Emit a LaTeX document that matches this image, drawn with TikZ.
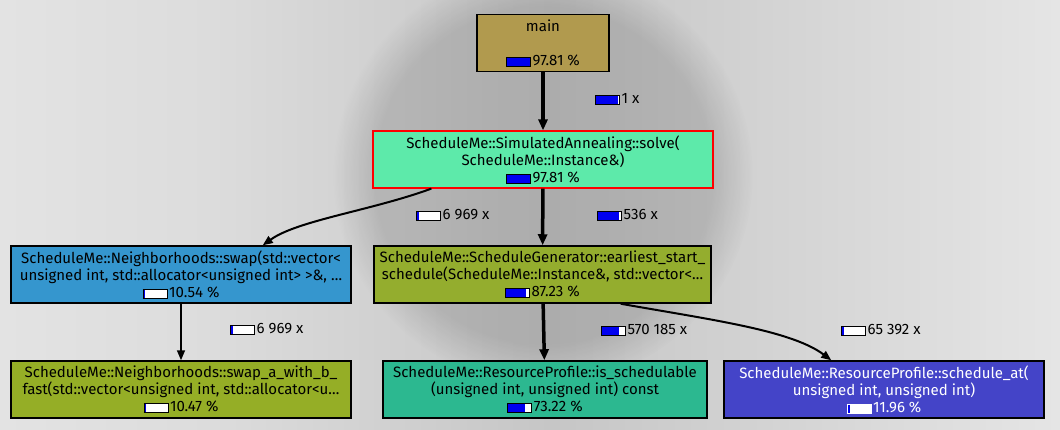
\documentclass[tikz,border=0pt]{standalone}
\usepackage{fontspec}
\setmainfont{Fira Sans}
\usetikzlibrary{calc,arrows.meta,fadings}
\definecolor{barblue}{HTML}{0000F0}
\definecolor{cmain}{HTML}{B19A4E}
\definecolor{csolve}{HTML}{5DEAAA}
\definecolor{cswap}{HTML}{3596CE}
\definecolor{cearl}{HTML}{94AD2E}
\definecolor{cswapab}{HTML}{95AE26}
\definecolor{csched}{HTML}{2CB890}
\definecolor{cschat}{HTML}{4444C8}
\definecolor{bgA}{HTML}{D4D4D4}
\definecolor{bgB}{HTML}{EAEAEA}
\definecolor{bgC}{HTML}{DCDCDC}
\definecolor{bgD}{HTML}{C6C6C6}
\definecolor{bgE}{HTML}{DCDCDC}
\definecolor{bgF}{HTML}{F2F2F2}
\definecolor{bgG}{HTML}{F8F8F8}
\pgfdeclarehorizontalshading{bgsh}{100bp}{color(0bp)=(bgA); color(15bp)=(bgB); color(35bp)=(bgC); color(51bp)=(bgD); color(68bp)=(bgE); color(85bp)=(bgF); color(100bp)=(bgG)}
\newcommand\pbar[1]{{\setlength\fboxsep{0pt}\setlength\fboxrule{1pt}\raisebox{-0.5pt}{\fbox{\textcolor{barblue}{\rule{#1pt}{8pt}}\textcolor{white}{\rule{\dimexpr23pt-#1pt\relax}{8pt}}}}\hspace{1.5pt}}}
\tikzset{
  fn/.style={draw=black, line width=1.5pt, minimum height=57pt, align=center,
    font=\fontsize{15}{17}\selectfont, inner sep=0pt, anchor=center},
  elabel/.style={anchor=west, inner sep=0pt, font=\fontsize{15}{17}\selectfont},
  thickedge/.style={line width=3.5pt, -{Triangle[length=11pt,width=9pt]}},
  thinedge/.style={line width=2pt, -{Triangle[length=10pt,width=8pt]}},
}
\begin{document}
\begin{tikzpicture}[x=1pt,y=-1pt]
\useasboundingbox (0,0) rectangle (1060,429);
\shade[shading=bgsh] (0,0) rectangle (1060,429);
\fill[black, opacity=0.13, path fading=circle with fuzzy edge 20 percent] (543,175) ellipse (210 and 210);

\node[fn, fill=cmain, minimum width=132pt] (main) at (543,43) {main\\ \mbox{}\\ \pbar{22.5}97.81 \%};
\node[fn, fill=csolve, draw=red, line width=1.2pt, minimum width=340pt] (solve) at (543,159.5) {ScheduleMe::SimulatedAnnealing::solve(\\ ScheduleMe::Instance\&)\\ \pbar{22.5}97.81 \%};
\node[fn, fill=cswap, minimum width=340pt] (swap) at (181,274.5) {ScheduleMe::Neighborhoods::swap(std::vector<\\ unsigned int, std::allocator<unsigned int> >\&, \dots\\ \pbar{1.5}10.54 \%};
\node[fn, fill=cearl, minimum width=337pt] (earl) at (542.5,274.5) {ScheduleMe::ScheduleGenerator::earliest\_start\_\\ schedule(ScheduleMe::Instance\&, std::vector<\dots\\ \pbar{20}87.23 \%};
\node[fn, fill=cswapab, minimum width=340pt] (swapab) at (181,389.5) {ScheduleMe::Neighborhoods::swap\_a\_with\_b\_\\ fast(std::vector<unsigned int, std::allocator<u\dots\\ \pbar{1.5}10.47 \%};
\node[fn, fill=csched, minimum width=324pt] (issched) at (545,389.5) {ScheduleMe::ResourceProfile::is\_schedulable\\ (unsigned int, unsigned int) const\\ \pbar{17}73.22 \%};
\node[fn, fill=cschat, text=white, minimum width=320pt] (schedat) at (884,389.5) {ScheduleMe::ResourceProfile::schedule\_at(\\ unsigned int, unsigned int)\\ \pbar{2}11.96 \%};

\draw[thickedge] (main) -- (solve);
\draw[thickedge] (solve) -- (earl);
\draw[thickedge] (earl) -- (issched);
\draw[thinedge, line width=1.6pt] (swap) -- (swapab);
\draw[thinedge] ($(solve.south west)+(59,0)$) .. controls +(-60,22) and +(35,-25) .. ($(swap.north east)+(-89,0)$);
\draw[thinedge] ($(earl.south east)+(-91,0)$) .. controls +(90,16) and +(-40,-30) .. ($(schedat.north west)+(108,0)$);

\node[elabel] (l1) at (595,99) {\pbar{22}1 x};
\node[elabel] (l2) at (416,215) {\pbar{1.5}6 969 x};
\node[elabel] (l3) at (597,215) {\pbar{21}536 x};
\node[elabel] (l4) at (230,329) {\pbar{1.5}6 969 x};
\node[elabel] (l5) at (601,330) {\pbar{17}570 185 x};
\node[elabel] (l6) at (841,330) {\pbar{1.5}65 392 x};
\end{tikzpicture}
\end{document}
